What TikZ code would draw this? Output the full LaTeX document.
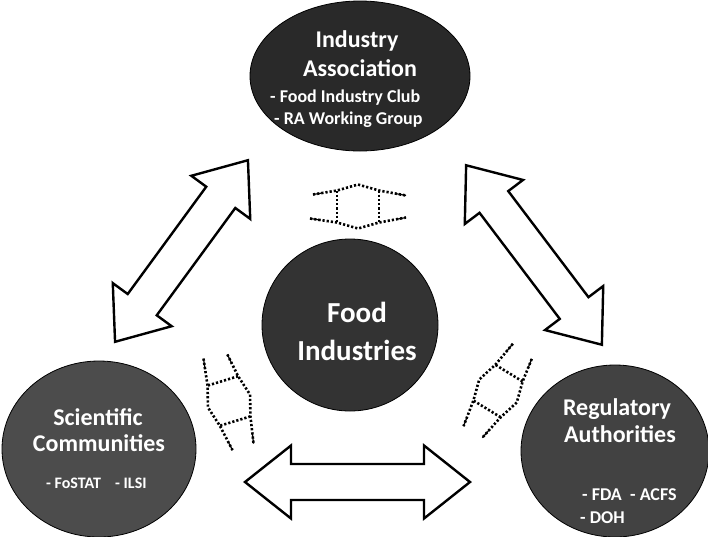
\documentclass[tikz,border=0pt]{standalone}
\usepackage{fontspec}
\setmainfont{Carlito}
\usetikzlibrary{shapes.geometric,calc}
\begin{document}
\begin{tikzpicture}[x=1pt,y=-1pt,
  blob/.style={ellipse, draw=black, line width=0.8pt, fill=#1, inner sep=0pt},
  ttl/.style={text=white, font=\fontsize{24}{28}\selectfont\bfseries, inner sep=0pt, anchor=base},
  big/.style={text=white, font=\fontsize{29}{34}\selectfont\bfseries, inner sep=0pt, anchor=base},
  sub/.style={text=white, font=\fontsize{18}{21}\selectfont\bfseries, inner sep=0pt, anchor=base west},
  barrow/.style={draw=black, fill=white, line width=2.4pt, line join=miter},
  dotln/.style={line width=2.6pt, dash pattern=on 2.2pt off 2pt},
  tailln/.style={line width=1.2pt},
  ladder/.pic={
    \draw[dotln] (-45,-12) -- (-21,-16) -- (0,-22) -- (21,-16) -- (48,-11);
    \draw[dotln] (-48,12) -- (-21,16) -- (0,22) -- (21,16) -- (48,11);
    \draw[dotln] (-21,-16) -- (-21,16);
    \draw[dotln] (21,-16) -- (21,16);
    \draw[tailln] (-45,-12) -- ($(-45,-12)!0.4!(-21,-16)$);
    \draw[tailln] (-48,12) -- ($(-48,12)!0.4!(-21,16)$);
    \draw[tailln] (48,-11) -- ($(48,-11)!0.35!(21,-16)$);
    \draw[tailln] (48,11) -- ($(48,11)!0.35!(21,16)$);
  },
  blockarrow/.pic={
    \draw[barrow] (-112.5,0) -- (-66.5,-36.5) -- (-66.5,-18) -- (66.5,-18)
      -- (66.5,-36.5) -- (112.5,0) -- (66.5,36.5) -- (66.5,18)
      -- (-66.5,18) -- (-66.5,36.5) -- cycle;
  }
]
\useasboundingbox (0,0) rectangle (708,536);

% block arrows
\pic at (181.5,251) [rotate=53.8] {blockarrow};
\pic at (534,255) [rotate=-52.9] {blockarrow};
\pic at (357.5,482) {blockarrow};

% dotted ladders
\pic at (358,206.5) {ladder};
\pic at (229,401) [rotate=-73] {ladder};
\pic at (498,391) [rotate=-121.5] {ladder};

% ellipses
\node[blob=black!84, minimum width=220, minimum height=150] (ia) at (360,76) {};
\node[blob=black!80, minimum width=176, minimum height=172] (fi) at (350,325) {};
\node[blob=black!70, minimum width=194, minimum height=176] (sc) at (99,449) {};
\node[blob=black!74, minimum width=188, minimum height=172] (ra) at (615,451) {};

% texts
\node[ttl] (ia1) at (357,47) {Industry};
\node[ttl] (ia2) at (360,76) {Association};
\node[sub] (ia3) at (270,102) {- Food Industry Club};
\node[sub] (ia4) at (274,124) {- RA Working Group};

\node[big] (fi1) at (357,322) {Food};
\node[big] (fi2) at (357,360) {Industries};

\node[ttl] (sc1) at (98,425) {Scientific};
\node[ttl] (sc2) at (99,451) {Communities};
\node[sub, font=\fontsize{16}{19}\selectfont\bfseries] (sc3) at (46,488) {- FoSTAT};
\node[sub, font=\fontsize{16}{19}\selectfont\bfseries] (sc4) at (115,488) {- ILSI};

\node[ttl] (ra1) at (617,415) {Regulatory};
\node[ttl] (ra2) at (620,442) {Authorities};
\node[sub] (ra3) at (582,500) {- FDA};
\node[sub] (ra4) at (630,500) {- ACFS};
\node[sub] (ra5) at (580,523) {- DOH};
\end{tikzpicture}
\end{document}
